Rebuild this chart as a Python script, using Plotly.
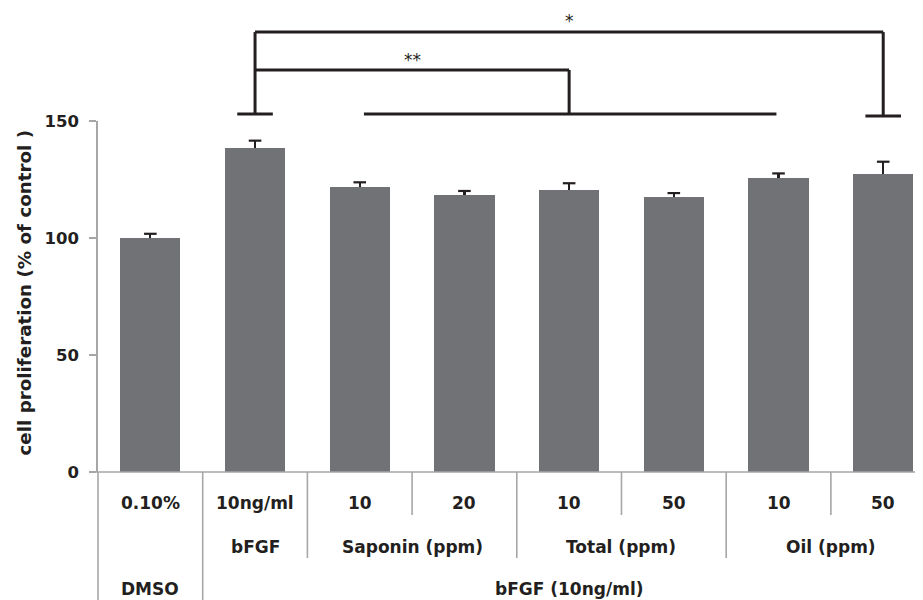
import plotly.graph_objects as go

# ---- data ----
categories = ["DMSO 0.10%", "bFGF 10ng/ml", "Saponin 10", "Saponin 20",
              "Total 10", "Total 50", "Oil 10", "Oil 50"]
values = [100.0, 138.3, 121.9, 118.4, 120.5, 117.5, 125.6, 127.4]
errors = [1.8, 3.3, 1.9, 1.7, 2.9, 1.7, 2.0, 5.2]

row1_labels = ["0.10%", "10ng/ml", "10", "20", "10", "50", "10", "50"]
row2_labels = ["bFGF", "Saponin (ppm)", "Total (ppm)", "Oil (ppm)"]
row2_centers = [1, 2.5, 4.5, 6.5]
row3_labels = ["DMSO", "bFGF (10ng/ml)"]
row3_centers = [0, 4.0]

y_ticks = [0, 50, 100, 150]
YMAX = 150
XMIN, XMAX = -0.5, 7.38

# significance brackets (data units)
sig_low_left = 153.0
sig_low_right = 152.1
sig_mid = 171.8
sig_top = 188.0

FONT = "DejaVu Sans"
TXT = "#231f20"
GRID = "#a6a6a6"
BAR = "#717276"

x = list(range(len(categories)))

fig = go.Figure()
fig.add_trace(go.Bar(
    x=x, y=values, width=0.575,
    marker=dict(color=BAR, line=dict(width=0)),
    error_y=dict(type="data", symmetric=False, array=errors,
                 arrayminus=[0] * len(errors), width=0, thickness=2.2, color=TXT),
    showlegend=False, hoverinfo="skip",
))
fig.add_trace(go.Scatter(
    x=x, y=[v + e for v, e in zip(values, errors)], mode="markers",
    marker=dict(symbol="line-ew-open", size=9, color=TXT,
                line=dict(width=2.2, color=TXT)),
    showlegend=False, hoverinfo="skip", cliponaxis=False,
))


def px(c):
    return (c - XMIN) / (XMAX - XMIN)


def py(v):
    return v / YMAX


shapes = []
# x-axis baseline (extends a bit left of y axis)
shapes.append(dict(type="line", xref="paper", yref="paper", x0=-0.008, x1=1.0,
                   y0=0, y1=0, line=dict(color=GRID, width=1.6)))
# separators under axis
sep = [(-0.5, 128), (0.5, 128), (1.5, 86), (2.5, 43), (3.5, 86), (4.5, 43), (5.5, 86), (6.5, 43)]
for b, depth in sep:
    shapes.append(dict(type="line", xref="paper", yref="paper", ysizemode="pixel",
                       yanchor=0, x0=px(b), x1=px(b), y0=0, y1=-depth,
                       line=dict(color=GRID, width=1.6)))

# brackets
BL = dict(color=TXT, width=3)


def seg(x0, y0, x1, y1):
    shapes.append(dict(type="line", xref="paper", yref="paper",
                       x0=px(x0), x1=px(x1), y0=py(y0), y1=py(y1), line=BL))


seg(0.83, sig_low_left, 1.17, sig_low_left)        # short tick above bFGF
seg(2.04, sig_low_left, 5.98, sig_low_left)        # long line over treatments
seg(6.83, sig_low_right, 7.17, sig_low_right)      # short tick above Oil 50
seg(1, sig_low_left, 1, sig_top)                   # left vertical
seg(1, sig_mid, 4, sig_mid)                        # ** line
seg(4, sig_low_left, 4, sig_mid)                   # mid vertical
seg(1, sig_top, 7.0, sig_top)                      # * line
seg(7.0, sig_top, 7.0, sig_low_right)              # right vertical

annotations = []
lab_font = dict(family=FONT, size=17, color=TXT, weight="bold")
for i, t in enumerate(row1_labels):
    annotations.append(dict(x=px(i), xref="paper", y=0, yref="paper", yshift=-31,
                            text=t, showarrow=False, font=lab_font,
                            xanchor="center", yanchor="middle"))
for c, t in zip(row2_centers, row2_labels):
    annotations.append(dict(x=px(c), xref="paper", y=0, yref="paper", yshift=-75,
                            text=t, showarrow=False, font=lab_font,
                            xanchor="center", yanchor="middle"))
for c, t in zip(row3_centers, row3_labels):
    annotations.append(dict(x=px(c), xref="paper", y=0, yref="paper", yshift=-117,
                            text=t, showarrow=False, font=lab_font,
                            xanchor="center", yanchor="middle"))

star_font = dict(family=FONT, size=17, color=TXT)
annotations.append(dict(x=px(2.5), xref="paper", y=py(sig_mid), yref="paper", yshift=10,
                        text="**", showarrow=False, font=star_font,
                        xanchor="center", yanchor="middle"))
annotations.append(dict(x=px(4.0), xref="paper", y=py(sig_top), yref="paper", yshift=11,
                        text="*", showarrow=False, font=star_font,
                        xanchor="center", yanchor="middle"))

annotations.append(dict(x=0, xref="paper", xshift=-74, y=0.5, yref="paper", yshift=4,
                        text="cell proliferation (% of control )", textangle=-90,
                        showarrow=False, xanchor="center", yanchor="middle",
                        font=dict(family=FONT, size=18.3, color=TXT, weight="bold")))

# page has an 8px body margin: size the figure so it fills the 923x600 view
fig.update_layout(
    width=915, height=592,
    margin=dict(l=90, r=0, t=113, b=128, pad=0),
    paper_bgcolor="white", plot_bgcolor="white",
    bargap=0,
    shapes=shapes, annotations=annotations,
    xaxis=dict(range=[XMIN, XMAX], showticklabels=False, showgrid=False,
               zeroline=False, showline=False, ticks=""),
    yaxis=dict(range=[0, YMAX], tickvals=y_ticks, ticktext=[str(t) for t in y_ticks],
               showgrid=False, zeroline=False, showline=True, linecolor=GRID,
               linewidth=1.6, ticks="outside", ticklen=7, tickwidth=1.6,
               tickcolor=GRID, ticklabelstandoff=7,
               tickfont=dict(family=FONT, size=16.5, color=TXT, weight="bold")),
)

fig.write_html("out.html")
